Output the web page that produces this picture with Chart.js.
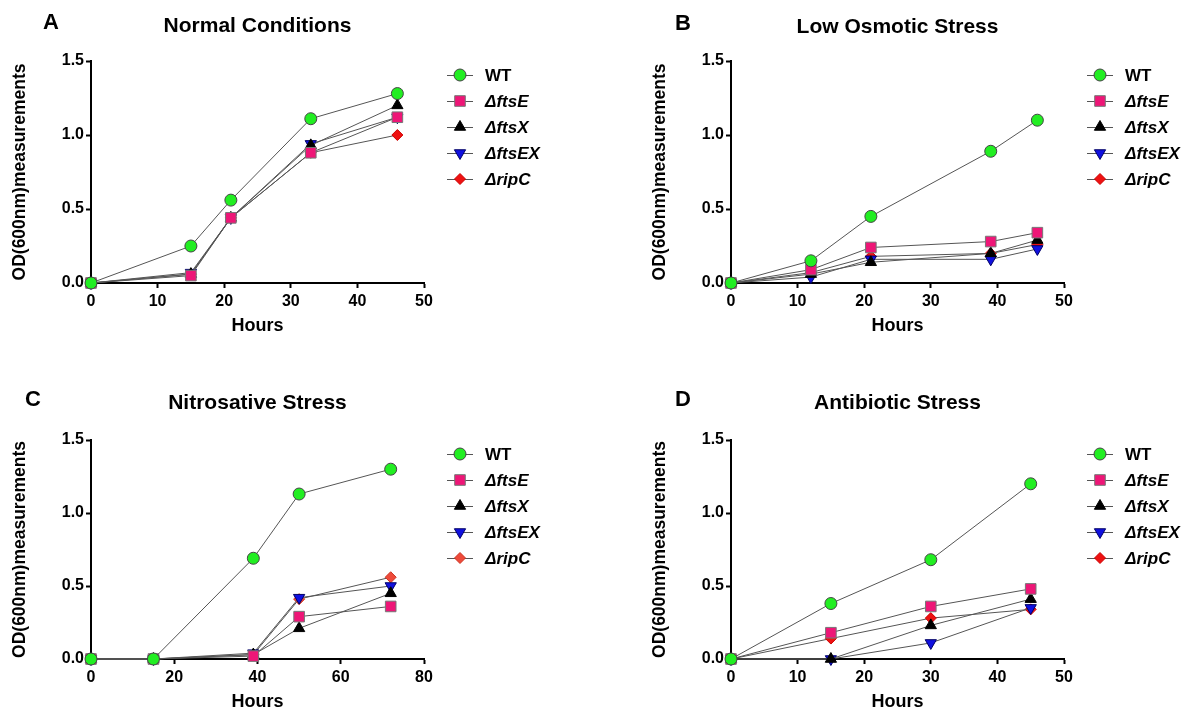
<!DOCTYPE html>
<html>
<head>
<meta charset="utf-8">
<script src="https://cdn.jsdelivr.net/npm/chart.js@4.4.1/dist/chart.umd.min.js"></script>
<style>
  html, body { margin: 0; padding: 0; background: #fff; }
  body { width: 1189px; height: 709px; position: relative; overflow: hidden; }
  canvas { position: absolute; }
</style>
</head>
<body>
<canvas id="cA" width="594" height="354" style="left:0px;top:0px"></canvas>
<canvas id="cB" width="549" height="354" style="left:640px;top:0px"></canvas>
<canvas id="cC" width="594" height="351" style="left:0px;top:379px"></canvas>
<canvas id="cD" width="549" height="351" style="left:640px;top:379px"></canvas>
<script>
// ---------- DATA ----------
const seriesNames = ['WT', 'ΔftsE', 'ΔftsX', 'ΔftsEX', 'ΔripC'];

const panelLetters = ['A', 'B', 'C', 'D'];
const panelTitles = ['Normal Conditions', 'Low Osmotic Stress', 'Nitrosative Stress', 'Antibiotic Stress'];

const yTicks = [0, 0.5, 1.0, 1.5];

// Panel A - Normal Conditions
const hoursA = [0, 15, 21, 33, 46];
const wtA    = [0, 0.25, 0.56, 1.11, 1.28];
const ftsEA  = [0, 0.05, 0.44, 0.88, 1.12];
const ftsXA  = [0, 0.06, 0.44, 0.93, 1.20];
const ftsEXA = [0, 0.07, 0.44, 0.94, 1.12];
const ripCA  = [0, 0.06, 0.44, 0.88, 1.00];

// Panel B - Low Osmotic Stress
const hoursB = [0, 12, 21, 39, 46];
const wtB    = [0, 0.15, 0.45, 0.89, 1.10];
const ftsEB  = [0, 0.09, 0.24, 0.28, 0.34];
const ftsXB  = [0, 0.06, 0.14, 0.20, 0.29];
const ftsEXB = [0, 0.04, 0.16, 0.16, 0.23];
const ripCB  = [0, 0.07, 0.18, 0.20, 0.26];

// Panel C - Nitrosative Stress
const hoursC = [0, 15, 39, 50, 72];
const wtC    = [0, 0, 0.69, 1.13, 1.30];
const ftsEC  = [0, 0, 0.02, 0.29, 0.36];
const ftsXC  = [0, 0, 0.03, 0.21, 0.45];
const ftsEXC = [0, 0, 0.04, 0.42, 0.50];
const ripCC  = [0, 0, 0.03, 0.41, 0.56];

// Panel D - Antibiotic Stress
const hoursD = [0, 15, 30, 45];
const wtD    = [0, 0.38, 0.68, 1.20];
const ftsED  = [0, 0.18, 0.36, 0.48];
const ftsXD  = [0, 0.00, 0.23, 0.41];
const ftsEXD = [0, 0.00, 0.11, 0.35];
const ripCD  = [0, 0.14, 0.28, 0.34];

const xMaxA = 50, xMaxB = 50, xMaxC = 80, xMaxD = 50;
const xStepA = 10, xStepB = 10, xStepC = 20, xStepD = 10;

// ---------- STYLES ----------
const FONT = "'Liberation Sans', Arial, Helvetica, sans-serif";
Chart.defaults.color = '#000';
Chart.defaults.font.family = FONT;

const markerStyles = [
  { pointStyle: 'circle',   radius: 6,   rotation: 0,   bg: '#22ee22', border: '#444444' },
  { pointStyle: 'rect',     radius: 7.5, rotation: 0,   bg: '#ee1677', border: '#777777' },
  { pointStyle: 'triangle', radius: 6.5, rotation: 0,   bg: '#000000', border: '#000000' },
  { pointStyle: 'triangle', radius: 6.5, rotation: 180, bg: '#1010e0', border: '#000066' },
  { pointStyle: 'rectRot',  radius: 5.5, rotation: 0,   bg: '#ee1111', border: '#cc0000' }
];
const ripCLight = { bg: '#ee4a3a', border: '#cc3322' };

function makeDatasets(hours, seriesList, lightRip) {
  return seriesList.map((vals, i) => {
    const m = Object.assign({}, markerStyles[i]);
    if (i === 4 && lightRip) { m.bg = ripCLight.bg; m.border = ripCLight.border; }
    return {
      label: seriesNames[i],
      data: hours.map((h, k) => ({ x: h, y: vals[k] })),
      borderColor: '#555555',
      borderWidth: 1,
      pointStyle: m.pointStyle,
      pointRadius: m.radius,
      pointRotation: m.rotation,
      pointBackgroundColor: m.bg,
      pointBorderColor: m.border,
      pointBorderWidth: 1,
      pointHoverRadius: m.radius,
      tension: 0,
      clip: false,
      _marker: m
    };
  });
}

// ---------- custom plugin: panel letter, title, legend ----------
const decorPlugin = {
  id: 'decor',
  afterDraw(chart, args, opts) {
    const ctx = chart.ctx;
    const ca = chart.chartArea;
    ctx.save();
    // panel letter
    ctx.fillStyle = '#000';
    ctx.font = 'bold 22px ' + FONT;
    ctx.textAlign = 'center';
    ctx.textBaseline = 'middle';
    ctx.fillText(opts.letter, opts.letterX, opts.letterY);
    // title
    ctx.font = 'bold 21px ' + FONT;
    ctx.fillText(opts.title, (ca.left + ca.right) / 2, opts.titleY);
    // legend
    const lx = ca.right + 36;
    chart.data.datasets.forEach((ds, i) => {
      const y = ca.top + 14 + i * 26;
      ctx.strokeStyle = '#555555';
      ctx.lineWidth = 1;
      ctx.beginPath();
      ctx.moveTo(lx - 13, y + 0.5);
      ctx.lineTo(lx + 13, y + 0.5);
      ctx.stroke();
      const m = ds._marker;
      ctx.fillStyle = ds.pointBackgroundColor;
      ctx.strokeStyle = ds.pointBorderColor;
      ctx.lineWidth = 1;
      Chart.helpers.drawPoint(ctx, {
        pointStyle: m.pointStyle,
        rotation: m.rotation,
        radius: m.radius,
        borderWidth: 1
      }, lx, y);
      ctx.fillStyle = '#000';
      ctx.textAlign = 'left';
      ctx.textBaseline = 'middle';
      ctx.font = (i === 0 ? 'bold 17px ' : 'italic bold 17px ') + FONT;
      ctx.fillText(ds.label, lx + 25, y + 1);
    });
    ctx.restore();
  }
};

function makeChart(id, hours, seriesList, xMax, xStep, idx, opts) {
  const el = document.getElementById(id);
  return new Chart(el, {
    type: 'line',
    data: { datasets: makeDatasets(hours, seriesList, opts.lightRip) },
    options: {
      responsive: false,
      animation: false,
      devicePixelRatio: 1,
      events: [],
      layout: { padding: { left: 0, right: el.width - 424, top: 61, bottom: 0 } },
      plugins: {
        legend: { display: false },
        title: { display: false },
        tooltip: { enabled: false },
        decor: {
          letter: panelLetters[idx],
          title: panelTitles[idx],
          letterX: opts.letterX, letterY: opts.letterY,
          titleY: opts.titleY
        }
      },
      scales: {
        x: {
          type: 'linear',
          min: 0, max: xMax,
          afterFit(s) { s.height = 71; },
          ticks: { stepSize: xStep, font: { size: 16, weight: 'bold' }, padding: 4, maxRotation: 0 },
          grid: { drawOnChartArea: false, drawTicks: true, tickLength: 5, tickWidth: 2, tickColor: '#000' },
          border: { display: true, color: '#000', width: 2 },
          title: { display: true, text: 'Hours', font: { size: 18, weight: 'bold' }, padding: { top: 0, bottom: 17 } }
        },
        y: {
          type: 'linear',
          min: 0, max: 1.5,
          afterFit(s) { s.width = 91; },
          afterBuildTicks(s) { s.ticks = yTicks.map(v => ({ value: v })); },
          ticks: { font: { size: 16, weight: 'bold' }, padding: 2, callback: v => Number(v).toFixed(1) },
          grid: { drawOnChartArea: false, drawTicks: true, tickLength: 5, tickWidth: 2, tickColor: '#000' },
          border: { display: true, color: '#000', width: 2 },
          title: { display: true, text: 'OD(600nm)measurements', font: { size: 17.5, weight: 'bold' }, padding: { top: 10, bottom: 0 } }
        }
      }
    },
    plugins: [decorPlugin]
  });
}

makeChart('cA', hoursA, [wtA, ftsEA, ftsXA, ftsEXA, ripCA], xMaxA, xStepA, 0,
  { letterX: 51, letterY: 23, titleY: 26 });
makeChart('cB', hoursB, [wtB, ftsEB, ftsXB, ftsEXB, ripCB], xMaxB, xStepB, 1,
  { letterX: 43, letterY: 24, titleY: 27 });
makeChart('cC', hoursC, [wtC, ftsEC, ftsXC, ftsEXC, ripCC], xMaxC, xStepC, 2,
  { letterX: 33, letterY: 21, titleY: 24, lightRip: true });
makeChart('cD', hoursD, [wtD, ftsED, ftsXD, ftsEXD, ripCD], xMaxD, xStepD, 3,
  { letterX: 43, letterY: 21, titleY: 24 });
</script>
</body>
</html>
